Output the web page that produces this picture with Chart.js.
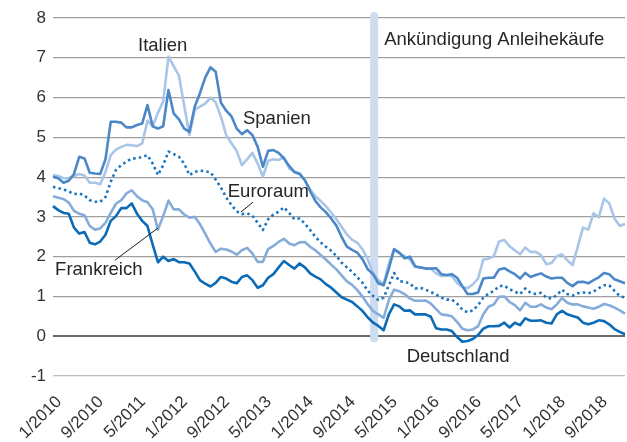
<!DOCTYPE html>
<html lang="de">
<head>
<meta charset="utf-8">
<script src="https://cdn.jsdelivr.net/npm/chart.js@4/dist/chart.umd.min.js"></script>
<style>
  html, body { margin: 0; padding: 0; background: #fff; }
  #wrap { width: 627px; height: 442px; }
</style>
</head>
<body>
<div id="wrap"><canvas id="c" width="627" height="442"></canvas></div>
<script>
// Monthly categories, 1/2010 .. 2/2019
const months = [];
for (let y = 2010; y <= 2019; y++) {
  for (let m = 1; m <= 12; m++) {
    if (y === 2019 && m > 2) break;
    months.push(m + '/' + y);
  }
}
const tickEvery = 8;            // every 8th month is labelled
const yTicks = [-1, 0, 1, 2, 3, 4, 5, 6, 7, 8];

// Yields of 10-year government bonds, % (monthly averages)
const italien = [
  4.05, 4.03, 3.97, 3.97, 4.03, 4.08, 4.04, 3.86, 3.86, 3.82, 4.13, 4.55,
  4.69, 4.76, 4.81, 4.80, 4.78, 4.85, 5.42, 5.28, 5.62, 5.90, 7.03, 6.79,
  6.55, 5.80, 5.06, 5.69, 5.77, 5.85, 6.00, 5.88, 5.52, 5.06, 4.85, 4.66,
  4.30, 4.45, 4.61, 4.34, 4.01, 4.41, 4.45, 4.43, 4.50, 4.22, 4.13, 4.09,
  3.92, 3.69, 3.52, 3.40, 3.27, 3.11, 2.94, 2.75, 2.56, 2.42, 2.35, 2.18,
  1.93, 1.59, 1.41, 1.31, 1.83, 2.18, 2.08, 2.01, 1.93, 1.74, 1.73, 1.71,
  1.70, 1.58, 1.51, 1.53, 1.51, 1.34, 1.24, 1.21, 1.30, 1.45, 1.93, 1.95,
  2.01, 2.38, 2.42, 2.26, 2.16, 2.06, 2.23, 2.12, 2.12, 2.04, 1.81, 1.84,
  2.01, 2.06, 1.91, 1.79, 2.25, 2.73, 2.68, 3.09, 2.99, 3.46, 3.34, 2.96,
  2.77, 2.82
];
const spanien = [
  4.01, 3.97, 3.86, 3.91, 4.08, 4.51, 4.47, 4.11, 4.09, 4.08, 4.45, 5.39,
  5.39, 5.37, 5.25, 5.25, 5.31, 5.35, 5.81, 5.28, 5.22, 5.28, 6.19, 5.60,
  5.45, 5.22, 5.14, 5.77, 6.11, 6.50, 6.76, 6.65, 5.87, 5.67, 5.53, 5.22,
  5.08, 5.18, 5.06, 4.76, 4.26, 4.66, 4.68, 4.61, 4.47, 4.28, 4.13, 4.08,
  3.92, 3.65, 3.40, 3.24, 3.12, 2.96, 2.78, 2.50, 2.25, 2.17, 2.10, 1.93,
  1.68, 1.56, 1.33, 1.28, 1.70, 2.19, 2.10, 1.96, 2.00, 1.76, 1.73, 1.70,
  1.70, 1.71, 1.56, 1.54, 1.56, 1.47, 1.26, 1.06, 1.06, 1.10, 1.45, 1.47,
  1.47, 1.68, 1.71, 1.63, 1.56, 1.45, 1.59, 1.49, 1.54, 1.58, 1.50, 1.45,
  1.47, 1.47, 1.34, 1.26, 1.36, 1.37, 1.33, 1.41, 1.48, 1.59, 1.56, 1.43,
  1.38, 1.33
];
const euroraum = [
  3.76, 3.72, 3.69, 3.64, 3.57, 3.59, 3.54, 3.42, 3.38, 3.38, 3.50, 3.88,
  4.18, 4.30, 4.39, 4.47, 4.47, 4.51, 4.55, 4.34, 4.05, 4.30, 4.64, 4.58,
  4.51, 4.34, 4.05, 4.13, 4.16, 4.15, 4.12, 3.94, 3.74, 3.49, 3.30, 3.14,
  3.07, 3.09, 3.03, 2.85, 2.67, 2.94, 3.06, 3.13, 3.24, 3.10, 2.94, 2.96,
  2.83, 2.67, 2.50, 2.36, 2.25, 2.15, 2.02, 1.85, 1.73, 1.62, 1.48, 1.34,
  1.14, 1.01, 0.91, 0.97, 1.28, 1.59, 1.38, 1.37, 1.33, 1.20, 1.22, 1.17,
  1.11, 1.05, 0.97, 0.92, 0.92, 0.82, 0.67, 0.60, 0.65, 0.78, 0.97, 1.07,
  1.14, 1.26, 1.27, 1.18, 1.12, 1.06, 1.20, 1.09, 1.06, 1.09, 0.97, 0.95,
  1.03, 1.17, 1.06, 1.02, 1.08, 1.10, 1.08, 1.12, 1.21, 1.28, 1.28, 1.14,
  1.01, 0.97
];
const frankreich = [
  3.52, 3.48, 3.45, 3.36, 3.15, 3.08, 3.04, 2.77, 2.68, 2.71, 2.85, 3.10,
  3.33, 3.42, 3.59, 3.67, 3.52, 3.42, 3.37, 3.19, 2.68, 3.02, 3.41, 3.19,
  3.19, 3.06, 2.98, 3.00, 2.82, 2.58, 2.33, 2.12, 2.20, 2.18, 2.13, 2.05,
  2.16, 2.22, 2.08, 1.87, 1.87, 2.19, 2.27, 2.37, 2.45, 2.33, 2.29, 2.36,
  2.37, 2.25, 2.16, 2.04, 1.93, 1.80, 1.68, 1.53, 1.38, 1.29, 1.16, 0.99,
  0.80, 0.63, 0.55, 0.46, 0.91, 1.17, 1.13, 1.06, 0.95, 0.89, 0.89, 0.90,
  0.82, 0.68, 0.55, 0.53, 0.50, 0.36, 0.19, 0.15, 0.17, 0.25, 0.55, 0.74,
  0.80, 0.99, 1.00, 0.86, 0.78, 0.65, 0.84, 0.74, 0.74, 0.80, 0.72, 0.68,
  0.80, 0.96, 0.84, 0.80, 0.80, 0.75, 0.72, 0.69, 0.74, 0.81, 0.78, 0.72,
  0.65, 0.57
];
const deutschland = [
  3.27, 3.17, 3.10, 3.08, 2.73, 2.58, 2.62, 2.35, 2.31, 2.38, 2.55, 2.90,
  3.02, 3.22, 3.22, 3.34, 3.08, 2.90, 2.77, 2.30, 1.86, 2.00, 1.89, 1.94,
  1.86, 1.86, 1.83, 1.63, 1.41, 1.32, 1.25, 1.34, 1.49, 1.45, 1.37, 1.33,
  1.49, 1.53, 1.41, 1.22, 1.28, 1.47, 1.56, 1.73, 1.89, 1.79, 1.70, 1.83,
  1.73, 1.58, 1.50, 1.43, 1.31, 1.22, 1.10, 0.98, 0.92, 0.86, 0.75, 0.63,
  0.47, 0.34, 0.26, 0.15, 0.55, 0.80, 0.75, 0.64, 0.65, 0.55, 0.55, 0.55,
  0.49, 0.20, 0.17, 0.17, 0.13, -0.02, -0.14, -0.12, -0.07, 0.03, 0.19, 0.25,
  0.25, 0.26, 0.34, 0.22, 0.34, 0.28, 0.45, 0.39, 0.39, 0.40, 0.34, 0.32,
  0.55, 0.64, 0.55, 0.51, 0.47, 0.34, 0.30, 0.34, 0.40, 0.38, 0.30, 0.18,
  0.11, 0.05
];

// ECB announcement of the bond purchase programme (position on the month axis)
const announcement = { index: 61.2, from: 8.05, to: -0.05, text: 'Ankündigung Anleihekäufe' };

const FONT = '"Liberation Sans", Arial, Helvetica, sans-serif';
const TEXT = '#262626';

// Series names written next to the lines, anchored in data units
const notes = [
  { text: 'Italien',     i: 20.9, v: 7.30, align: 'center' },
  { text: 'Spanien',     i: 36.2, v: 5.46, align: 'left' },
  { text: 'Euroraum',    i: 33.3, v: 3.62, align: 'left', leader: [38.1, 3.37, 35.8, 3.12] },
  { text: 'Frankreich',  i: 0.4,  v: 1.66, align: 'left', leader: [11.8, 1.91, 20.0, 2.72] },
  { text: 'Deutschland', i: 67.4, v: -0.53, align: 'left' }
];

const announcementBar = {
  id: 'announcementBar',
  beforeDatasetsDraw(chart) {
    const { ctx, scales: { x, y } } = chart;
    const px = x.getPixelForValue(announcement.index);
    ctx.save();
    ctx.strokeStyle = '#cedcf0';
    ctx.lineWidth = 8;
    ctx.lineCap = 'round';
    ctx.beginPath();
    ctx.moveTo(px, y.getPixelForValue(announcement.from));
    ctx.lineTo(px, y.getPixelForValue(announcement.to));
    ctx.stroke();
    ctx.restore();
  },
  afterDatasetsDraw(chart) {
    const { ctx, scales: { x, y } } = chart;
    ctx.save();
    ctx.fillStyle = TEXT;
    ctx.font = '18.5px ' + FONT;
    ctx.textBaseline = 'middle';
    ctx.textAlign = 'left';
    ctx.fillText(announcement.text, x.getPixelForValue(announcement.index) + 10, y.getPixelForValue(7.45));
    for (const n of notes) {
      ctx.textAlign = n.align;
      ctx.fillText(n.text, x.getPixelForValue(n.i), y.getPixelForValue(n.v));
      if (n.leader) {
        ctx.strokeStyle = '#1a1a1a';
        ctx.lineWidth = 1;
        ctx.beginPath();
        ctx.moveTo(x.getPixelForValue(n.leader[0]), y.getPixelForValue(n.leader[1]));
        ctx.lineTo(x.getPixelForValue(n.leader[2]), y.getPixelForValue(n.leader[3]));
        ctx.stroke();
      }
    }
    ctx.restore();
  }
};

function line(label, data, color, extra) {
  return Object.assign({
    label, data,
    borderColor: color,
    backgroundColor: color,
    borderWidth: 2.6,
    pointRadius: 0,
    pointHoverRadius: 0,
    tension: 0,
    fill: false,
    borderJoinStyle: 'round'
  }, extra || {});
}

new Chart(document.getElementById('c'), {
  type: 'line',
  data: {
    labels: months,
    datasets: [
      line('Deutschland', deutschland, '#0b6bb6'),
      line('Euroraum', euroraum, '#1a74bf', { borderDash: [2.5, 3.2], borderWidth: 2.6, borderCapStyle: 'butt' }),
      line('Frankreich', frankreich, '#86acda'),
      line('Spanien', spanien, '#4c88c8'),
      line('Italien', italien, '#a9c5e7')
    ]
  },
  options: {
    responsive: false,
    animation: false,
    events: [],
    layout: { padding: { top: 18, right: 2, left: 0, bottom: 0 } },
    plugins: { legend: { display: false }, tooltip: { enabled: false } },
    scales: {
      x: {
        type: 'category',
        offset: false,
        grid: { display: false, drawTicks: false },
        border: { display: false },
        afterFit(scale) {
          scale.height = 66;
          scale.paddingLeft = 0;
          scale.paddingRight = 0;
        },
        ticks: {
          autoSkip: false,
          maxRotation: 45,
          minRotation: 45,
          padding: 16,
          labelOffset: 6,
          color: '#333',
          font: { family: FONT, size: 17 },
          callback(value, index) { return index % tickEvery === 0 ? months[index] : ''; }
        }
      },
      y: {
        min: yTicks[0],
        max: yTicks[yTicks.length - 1],
        afterFit(scale) { scale.width = 53; },
        afterBuildTicks(scale) { scale.ticks = yTicks.map(v => ({ value: v })); },
        border: { display: false },
        grid: {
          drawTicks: false,
          color(ctx) {
            const v = ctx.tick && ctx.tick.value;
            if (v === 0) return '#6a6a6a';
            if (v === -1) return '#bdbdbd';
            return '#9f9f9f';
          },
          lineWidth(ctx) { return ctx.tick && ctx.tick.value === 0 ? 2 : 1.2; }
        },
        ticks: {
          padding: 7,
          color: '#333',
          font: { family: FONT, size: 17 }
        }
      }
    }
  },
  plugins: [announcementBar]
});
</script>
</body>
</html>
